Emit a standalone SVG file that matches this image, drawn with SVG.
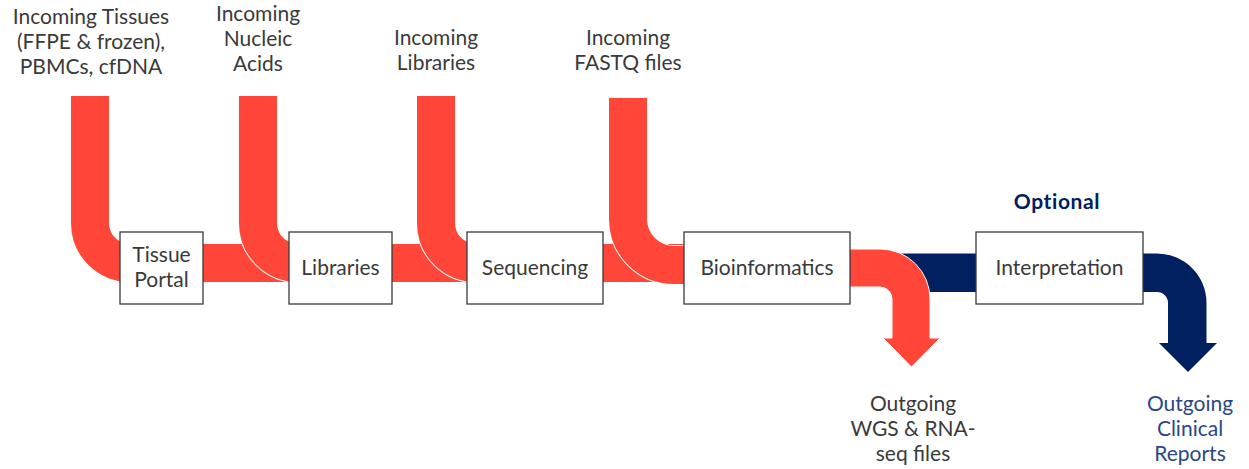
<svg xmlns="http://www.w3.org/2000/svg" xmlns:xlink="http://www.w3.org/1999/xlink" width="1249" height="469" viewBox="0 0 1249 469">
<style>
.halo{fill:none;stroke:#ffffff;stroke-width:40}
.pipe{fill:none;stroke:#FF4639;stroke-width:38}
.box{fill:#ffffff;stroke:#3a3a3a;stroke-width:1.3}
.t{font-family:Lato,"Liberation Sans",sans-serif;font-size:21px;fill:#3a3a3a;text-anchor:middle}
.nv{fill:#2B4784}
.opt{font-family:Lato,"Liberation Sans",sans-serif;font-size:21px;font-weight:bold;fill:#002060;text-anchor:middle;letter-spacing:0.6px}
</style>
<defs>
<path id="p1" d="M90,96 V223 A40,40 0 0 0 130,263 H300"/>
<path id="p2" d="M258,96 V223 A40,40 0 0 0 298,263 H480"/>
<path id="p3" d="M436,96 V223 A40,40 0 0 0 476,263 H700"/>
<path id="p4" d="M628,98 V219 A46,46 0 0 0 674,265 H700"/>
</defs>
<g id="connectors">
<use xlink:href="#p1" class="pipe"/>
<use xlink:href="#p2" class="halo"/>
<use xlink:href="#p2" class="pipe"/>
<use xlink:href="#p3" class="halo"/>
<use xlink:href="#p3" class="pipe"/>
<use xlink:href="#p4" class="halo"/>
<use xlink:href="#p4" class="pipe"/>
<path d="M898,253.5 H1157 A49.5,49.5 0 0 1 1206.5,303 V343 H1217 L1188,372 L1159,343 H1168 V303 A11,11 0 0 0 1157,292 H898 Z" fill="#002060"/>
<path d="M840,249 H880 A50,50 0 0 1 930,299 V338 H940 L911.5,367 L883,338 H892 V299 A12,12 0 0 0 880,287 H840 Z" fill="#FF4639" stroke="#ffffff" stroke-width="1"/>
</g>
<g id="tissue-portal">
<rect class="box" x="120" y="232" width="83" height="72"/>
<text class="t" x="161.5" y="262">Tissue</text>
<text class="t" x="161.5" y="287">Portal</text>
</g>
<g id="libraries">
<rect class="box" x="289" y="232" width="103" height="72"/>
<text class="t" x="340.5" y="275">Libraries</text>
</g>
<g id="sequencing">
<rect class="box" x="467" y="232" width="136" height="72"/>
<text class="t" x="535" y="275">Sequencing</text>
</g>
<g id="bioinformatics">
<rect class="box" x="684" y="232" width="166" height="72"/>
<text class="t" x="767" y="275">Bioinformatics</text>
</g>
<g id="interpretation">
<rect class="box" x="976" y="232" width="167" height="72"/>
<text class="t" x="1059.5" y="275">Interpretation</text>
</g>
<g id="optional-label">
<text class="opt" x="1057" y="209">Optional</text>
</g>
<g id="in-tissues">
<text class="t" x="91" y="24">Incoming Tissues</text>
<text class="t" x="91" y="49">(FFPE &amp; frozen),</text>
<text class="t" x="91" y="74">PBMCs, cfDNA</text>
</g>
<g id="in-nucleic">
<text class="t" x="258" y="21">Incoming</text>
<text class="t" x="258" y="46">Nucleic</text>
<text class="t" x="258" y="71">Acids</text>
</g>
<g id="in-libraries">
<text class="t" x="436" y="45">Incoming</text>
<text class="t" x="436" y="70">Libraries</text>
</g>
<g id="in-fastq">
<text class="t" x="628" y="45">Incoming</text>
<text class="t" x="628" y="70">FASTQ files</text>
</g>
<g id="out-files">
<text class="t" x="913" y="411">Outgoing</text>
<text class="t" x="913" y="436">WGS &amp; RNA-</text>
<text class="t" x="913" y="461">seq files</text>
</g>
<g id="out-reports">
<text class="t nv" x="1190" y="411">Outgoing</text>
<text class="t nv" x="1190" y="436">Clinical</text>
<text class="t nv" x="1190" y="461">Reports</text>
</g>
</svg>
